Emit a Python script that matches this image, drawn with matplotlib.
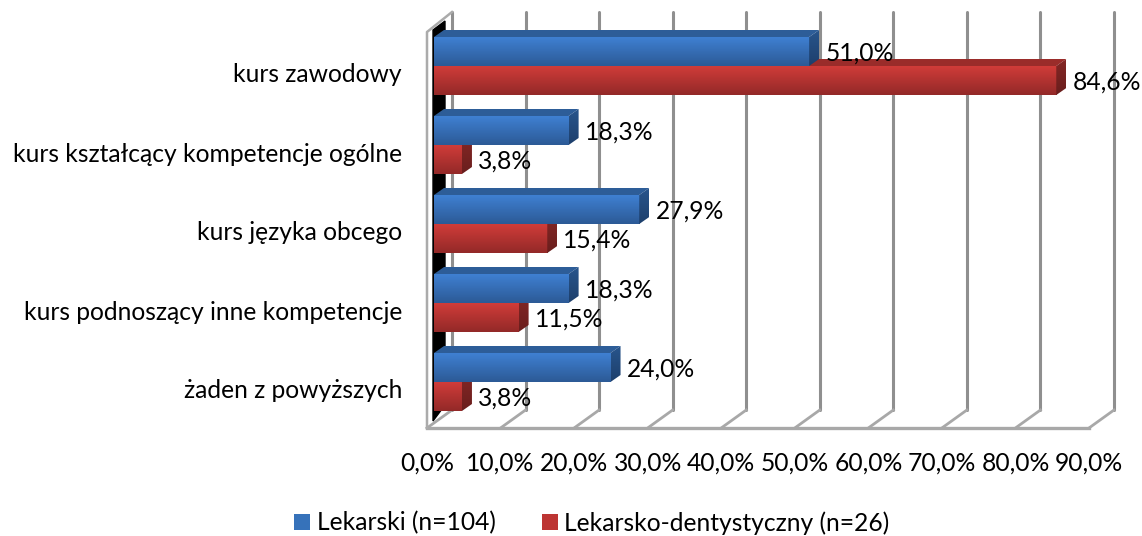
import numpy as np
import matplotlib
matplotlib.use("Agg")
import matplotlib.pyplot as plt
from matplotlib.colors import LinearSegmentedColormap
from matplotlib.patches import Patch, Polygon
from matplotlib.transforms import Affine2D

categories = ["kurs zawodowy", "kurs kształcący kompetencje ogólne", "kurs języka obcego",
              "kurs podnoszący inne kompetencje", "żaden z powyższych"]
lekarski = [51.0, 18.3, 27.9, 18.3, 24.0]
dentyst = [84.6, 3.8, 15.4, 11.5, 3.8]
series_names = ["Lekarski (n=104)", "Lekarsko-dentystyczny (n=26)"]
x_ticks = [0, 10, 20, 30, 40, 50, 60, 70, 80, 90]
x_labels = [f"{t},0%" for t in x_ticks]

W, H = 1142, 536
FONT = "Lato"
FS = 17.7
plt.rcParams["font.family"] = [FONT, "DejaVu Sans"]
fig = plt.figure(figsize=(W / 100, H / 100), dpi=100)
L, R, T, B = 434.0, 1096.0, 26.5, 421.5
ax = fig.add_axes([L / W, 1 - B / H, (R - L) / W, (B - T) / H])
ax.set_xlim(0, 90)
ax.set_ylim(4.5, -0.5)
ax.patch.set_alpha(0)
for s in ax.spines.values():
    s.set_visible(False)

pix = Affine2D().scale(1, -1).translate(0, H)
pxu = (R - L) / 90
pyu = (B - T) / 5
GRID = "#8f8f8f"
FRAME = "#a8a8a8"

def X(v):
    return L + v * pxu

# walls
ax.add_patch(Polygon([(433, 30), (445, 21), (445, 405), (433, 421)], closed=True,
                     color="black", transform=pix, clip_on=False, zorder=1))
for t in x_ticks:
    ax.plot([X(t) + 18, X(t) + 18], [12, 410], color=GRID, lw=2.2, transform=pix,
            clip_on=False, zorder=0.5, solid_capstyle="round")
    ax.plot([X(t) - 7, X(t) + 18], [428, 410], color=FRAME, lw=2.0, transform=pix,
            clip_on=False, zorder=0.6)
ax.plot([X(90) - 7, X(0) - 7], [428, 428], color=FRAME, lw=2.4, transform=pix, clip_on=False, zorder=2)
ax.plot([X(0) - 7, X(0) - 7, X(0) + 18], [428, 32, 12], color="#ababab", lw=1.8, transform=pix,
        clip_on=False, zorder=2)

DX, DY = 10 / pxu, 7 / pyu
H_BAR = 29 / pyu

def cm(a, b):
    return LinearSegmentedColormap.from_list("g", [a, b])

grad = np.linspace(0, 1, 64).reshape(-1, 1)

def bar3d(v, yc, front, top, side, z):
    y0, y1 = yc - H_BAR / 2, yc + H_BAR / 2
    ax.barh(yc, v, height=H_BAR, color=front[1], zorder=z, clip_on=False)
    ax.imshow(grad, extent=[0, v, y1, y0], cmap=cm(*front), aspect="auto", zorder=z + 0.01,
              clip_on=False, origin="upper")
    ax.add_patch(Polygon([(0, y0), (DX, y0 - DY), (v + DX, y0 - DY), (v, y0)], closed=True,
                         facecolor=top, edgecolor="none", zorder=z + 0.02, clip_on=False))
    im = ax.imshow(grad, extent=[v, v + DX, y1, y0 - DY], cmap=cm(*side), aspect="auto",
                   zorder=z + 0.02, origin="upper")
    clip = Polygon([(v, y0), (v + DX, y0 - DY), (v + DX, y1 - DY), (v, y1)], closed=True,
                   transform=ax.transData, facecolor="none", edgecolor="none")
    ax.add_patch(clip)
    im.set_clip_path(clip)

BLUE = (("#3f80d2", "#2c5a96"), "#2d5d98", ("#28558c", "#1d3f6c"))
RED = (("#d03c39", "#932928"), "#9a2c2a", ("#842725", "#691e1d"))
for i in range(len(categories)):
    yb, yr = i - H_BAR / 2, i + H_BAR / 2
    bar3d(dentyst[i], yr, RED[0], RED[1], RED[2], 3 + i * 0.2)
    bar3d(lekarski[i], yb, BLUE[0], BLUE[1], BLUE[2], 3.1 + i * 0.2)
    ax.annotate(f"{lekarski[i]:.1f}%".replace(".", ","), (lekarski[i], yb), xytext=(12.0, -1),
                textcoords="offset points", fontsize=FS, va="center", zorder=8, annotation_clip=False)
    ax.annotate(f"{dentyst[i]:.1f}%".replace(".", ","), (dentyst[i], yr), xytext=(11.6, -1),
                textcoords="offset points", fontsize=FS, va="center", zorder=8, annotation_clip=False)

ax.set_xlim(0, 90)
ax.set_ylim(4.5, -0.5)

ax.set_xticks(x_ticks, x_labels, fontsize=FS)
ax.set_yticks(range(len(categories)), categories, fontsize=FS)
ax.tick_params(axis="both", length=0)
ax.tick_params(axis="x", pad=22)
ax.tick_params(axis="y", pad=23)
shift_x = Affine2D().translate(-7, 0)
shift_y = Affine2D().translate(0, -7)
fig.canvas.draw()
for tk in ax.xaxis.get_major_ticks():
    tk.label1.set_transform(tk.label1.get_transform() + shift_x)
for tk in ax.yaxis.get_major_ticks():
    tk.label1.set_transform(tk.label1.get_transform() + shift_y)

handles = [Patch(facecolor="#3672ba", label=series_names[0]),
           Patch(facecolor="#bd3533", label=series_names[1])]
fig.legend(handles=handles, loc="center", bbox_to_anchor=(592 / W, 1 - 523 / H), ncol=2, frameon=False,
           fontsize=FS, handlelength=0.65, handleheight=0.62, handletextpad=0.28, columnspacing=1.85,
           borderpad=0, borderaxespad=0)
fig.savefig("out.png", dpi=100)
